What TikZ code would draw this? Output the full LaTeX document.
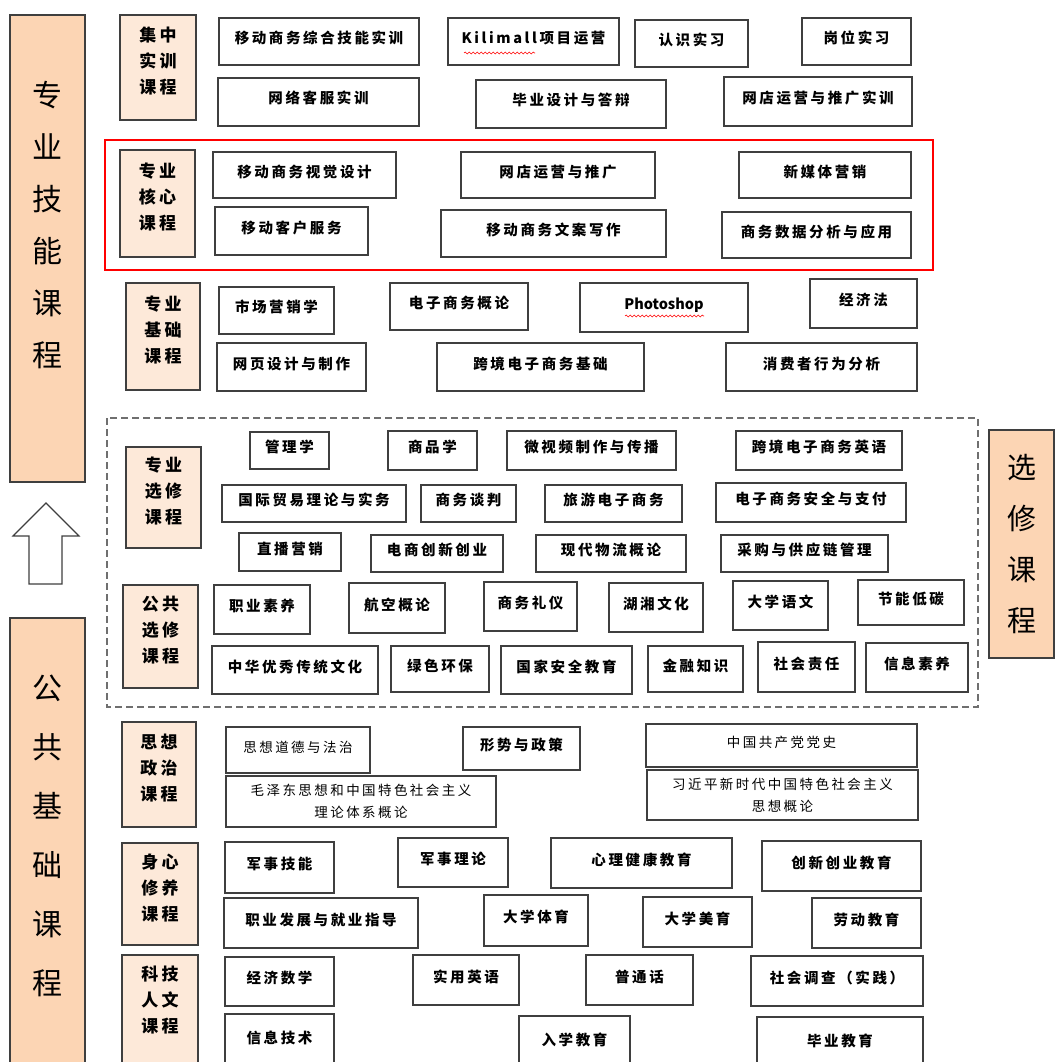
\documentclass[tikz,border=0pt]{standalone}
\usepackage{fontspec}
\setmainfont{Noto Sans CJK SC}
\newfontfamily\boxfont{Noto Sans CJK SC}[LetterSpace=18]
\usepackage{tikz}
\usetikzlibrary{decorations.pathmorphing}
\definecolor{peach}{HTML}{FCD5B4}
\definecolor{palepeach}{HTML}{FDE9D9}
\definecolor{rim}{HTML}{3F3F3F}

\begin{document}
\begin{tikzpicture}[x=1pt, y=-1pt,
		plain/.style={draw=rim, line width=1.5pt, fill=white, inner sep=0pt, font=\boxfont\bfseries\fontsize{14.5}{22}\selectfont},
		course/.style={plain, text height=12pt, text depth=8pt},
		thin/.style={font=\boxfont\fontsize{13.5}{22}\selectfont},
		wh/.style 2 args={minimum width=#1, minimum height=#2},
		kind/.style={draw=rim, line width=1.5pt, fill=palepeach, inner sep=0pt, align=center, text depth=14pt, font=\boxfont\bfseries\fontsize{17}{26}\selectfont},
		big/.style={draw=rim, line width=1.5pt, fill=peach, inner sep=0pt, align=center, font=\fontsize{30}{52}\selectfont},
		squig/.style={red, line width=0.6pt, decorate, decoration={snake, amplitude=0.9pt, segment length=4pt}}]
		\useasboundingbox (0,0) rectangle (1055,1062);
		\draw[red, line width=2pt] (105,140) rectangle (933,270);
		\draw[rim!75, line width=1.5pt, dash pattern=on 7pt off 4pt] (107,418) rectangle (978,707);
		\node[big, wh={75}{467}, text depth=50pt] (skill) at (47.5,248.5) {专\\业\\技\\能\\课\\程};
		\draw[draw=rim, line width=1.2pt, fill=white] (46,503) -- (79,536) -- (62,536) -- (62,584) -- (29,584) -- (29,536) -- (13,536) -- cycle;
		\node[big, wh={75}{457}, text depth=23pt, font=\fontsize{30}{59}\selectfont] (pub) at (47.5,846.5) {公\\共\\基\\础\\课\\程};
		\node[big, wh={65}{228}, font=\fontsize{29}{51}\selectfont] (elec) at (1021.5,544) {选\\修\\课\\程};

		\node[kind, wh={76}{105}] (jzlab) at (158,67.5) {集中\\实训\\课程};
		\node[course, wh={200}{47}] (zhjn) at (319,41.5) {移动商务综合技能实训};
		\node[course, wh={171}{47}] (klm) at (533.5,41.5) {Kilimall项目运营};
		\node[course, wh={113}{47}] (rsxx) at (691.5,43.5) {认识实习};
		\node[course, wh={109}{47}] (gwxx) at (856.5,41.5) {岗位实习};
		\node[course, wh={201}{48}] (kfsx) at (318.5,102) {网络客服实训};
		\node[course, wh={190}{48}] (bysj) at (571,104) {毕业设计与答辩};
		\node[course, wh={188}{49}] (wdsx) at (818,101.5) {网店运营与推广实训};
		\draw[squig] (464,53) -- (535,53);

		\node[kind, wh={75}{107}] (hxlab) at (157.5,203.5) {专业\\核心\\课程};
		\node[course, wh={183}{46}] (sjsj) at (304.5,175) {移动商务视觉设计};
		\node[course, wh={194}{46}] (wdyy) at (558,175) {网店运营与推广};
		\node[course, wh={172}{46}] (xmt) at (825,175) {新媒体营销};
		\node[course, wh={153}{48}] (khfw) at (291.5,231) {移动客户服务};
		\node[course, wh={225}{47}] (wagx) at (553.5,233.5) {移动商务文案写作};
		\node[course, wh={189}{46}] (sjfx) at (816.5,235) {商务数据分析与应用};

		\node[kind, wh={74}{107}] (jclab) at (163,336.5) {专业\\基础\\课程};
		\node[course, wh={115}{47}] (scyx) at (276.5,310.5) {市场营销学};
		\node[course, wh={138}{47}] (dzsw) at (459,306.5) {电子商务概论};
		\node[course, wh={168}{49}] (ps) at (664,307.5) {\addfontfeature{LetterSpace=0}Photoshop};
		\node[course, wh={107}{49}] (jjf) at (863.5,303.5) {经济法};
		\node[course, wh={149}{48}] (wysj) at (291.5,367) {网页设计与制作};
		\node[course, wh={207}{48}] (kjjc) at (540.5,367) {跨境电子商务基础};
		\node[course, wh={191}{48}] (xfz) at (821.5,367) {消费者行为分析};
		\draw[squig] (625,316) -- (704,316);

		\node[kind, wh={75}{101}] (zxlab) at (163.5,497.5) {专业\\选修\\课程};
		\node[course, wh={79}{37}] (glx) at (289.5,450.5) {管理学};
		\node[course, wh={89}{39}] (spx) at (432.5,450.5) {商品学};
		\node[course, wh={169}{39}] (wsp) at (591.5,450.5) {微视频制作与传播};
		\node[course, wh={166}{39}] (kjyy) at (819,450.5) {跨境电子商务英语};
		\node[course, wh={184}{37}] (gjmy) at (314,503.5) {国际贸易理论与实务};
		\node[course, wh={95}{37}] (swtp) at (468.5,503.5) {商务谈判};
		\node[course, wh={137}{37}] (lydz) at (613.5,503.5) {旅游电子商务};
		\node[course, wh={190}{39}] (aqzf) at (811,502.5) {电子商务安全与支付};
		\node[course, wh={102}{38}] (zbyx) at (290,552) {直播营销};
		\node[course, wh={132}{37}] (dscx) at (437,553.5) {电商创新创业};
		\node[course, wh={150}{37}] (wlgl) at (611,553.5) {现代物流概论};
		\node[course, wh={167}{37}] (cggl) at (804.5,553.5) {采购与供应链管理};

		\node[kind, wh={75}{103}] (gxlab) at (160.5,636.5) {公共\\选修\\课程};
		\node[course, wh={96}{49}] (zyss) at (262,609.5) {职业素养};
		\node[course, wh={96}{50}] (hkgl) at (397,608) {航空概论};
		\node[course, wh={93}{49}] (swly) at (530.5,606.5) {商务礼仪};
		\node[course, wh={94}{49}] (hxwh) at (656,607.5) {湖湘文化};
		\node[course, wh={95}{49}] (dxyw) at (780.5,605.5) {大学语文};
		\node[course, wh={106}{45}] (jndt) at (911,602.5) {节能低碳};
		\node[course, wh={166}{48}] (zhyx) at (295,670) {中华优秀传统文化};
		\node[course, wh={98}{46}] (lshb) at (440,669) {绿色环保};
		\node[course, wh={131}{48}] (gjaq) at (566.5,670) {国家安全教育};
		\node[course, wh={95}{46}] (jrzs) at (695.5,669) {金融知识};
		\node[course, wh={97}{50}] (shzr) at (806.5,667) {社会责任};
		\node[course, wh={102}{49}] (xxsy) at (917,667.5) {信息素养};

		\node[kind, wh={74}{105}] (szlab) at (159,774.5) {思想\\政治\\课程};
		\node[course, thin, wh={144}{46}] (ddfz) at (298,750) {思想道德与法治};
		\node[course, wh={117}{43}] (xszc) at (521.5,748.5) {形势与政策};
		\node[course, thin, wh={271}{43}] (dsh) at (781.5,745.5) {中国共产党党史};
		\node[plain, thin, align=center, wh={270}{51}] (mzd) at (361,801.5) {毛泽东思想和中国特色社会主义\\理论体系概论};
		\node[plain, thin, align=center, wh={271}{50}] (xjp) at (782.5,795) {习近平新时代中国特色社会主义\\思想概论};

		\node[kind, wh={76}{102}] (sxlab) at (160,894) {身心\\修养\\课程};
		\node[course, wh={109}{51}] (jsjn) at (279.5,867.5) {军事技能};
		\node[course, wh={110}{49}] (jsll) at (453,862.5) {军事理论};
		\node[course, wh={181}{50}] (xljk) at (641.5,863) {心理健康教育};
		\node[course, wh={159}{50}] (cxcy) at (841.5,866) {创新创业教育};
		\node[course, wh={194}{50}] (zyfz) at (321,923) {职业发展与就业指导};
		\node[course, wh={104}{51}] (dxty) at (536,920.5) {大学体育};
		\node[course, wh={109}{50}] (dxmy) at (697.5,922) {大学美育};
		\node[course, wh={109}{50}] (ldjy) at (866.5,923) {劳动教育};

		\node[kind, wh={76}{120}, text depth=32pt] (kjlab) at (160,1015) {科技\\人文\\课程};
		\node[course, wh={109}{49}] (jjsx) at (279.5,981.5) {经济数学};
		\node[course, wh={106}{50}] (syyy) at (466,980) {实用英语};
		\node[course, wh={107}{50}] (pth) at (639.5,980) {普通话};
		\node[course, wh={172}{50}] (shdc) at (837,981) {社会调查（实践）};
		\node[course, wh={109}{54}] (xxjs) at (279.5,1041) {信息技术};
		\node[course, wh={111}{54}] (rxjy) at (574.5,1043) {入学教育};
		\node[course, wh={166}{54}] (byjy) at (840,1044) {毕业教育};
	\end{tikzpicture}
\end{document}
